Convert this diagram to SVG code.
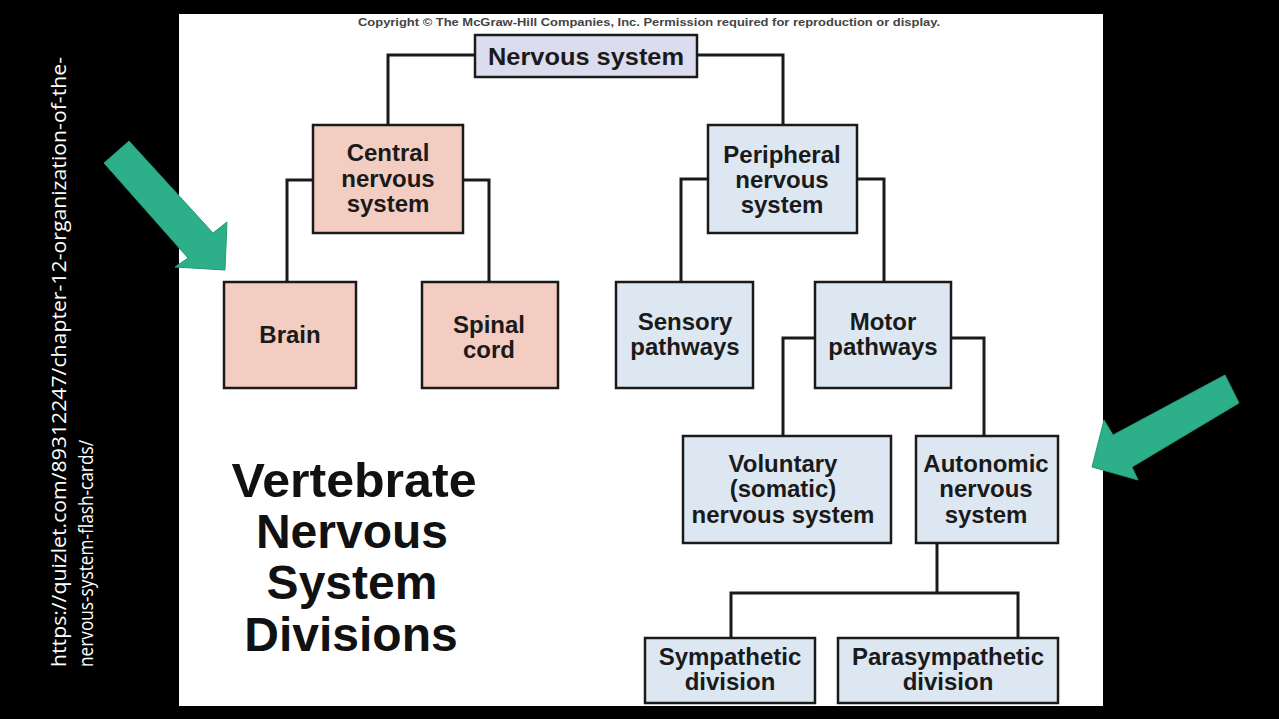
<svg xmlns="http://www.w3.org/2000/svg" width="1279" height="719" viewBox="0 0 1279 719">
<style>
.box{stroke:#1a1a1a;stroke-width:2.5}
.pink{fill:#f3cdc1}
.blue{fill:#dde7f2}
.lav{fill:#dcdcef}
.t{font-family:"Liberation Sans",Arial,sans-serif;font-weight:bold;font-size:24px;fill:#1a1a1a;text-anchor:middle}
.title{font-family:"Liberation Sans",Arial,sans-serif;font-weight:bold;font-size:48px;fill:#111;text-anchor:middle}
.conn{fill:none;stroke:#1a1a1a;stroke-width:3}
.arrow{fill:#2db089;stroke:#249a76;stroke-width:1}
.url{font-family:"Open Sans","Liberation Sans",sans-serif;font-size:20px;fill:#ffffff}
</style>
<rect x="0" y="0" width="1279" height="719" fill="#000"/>
<rect x="179" y="14" width="924" height="692" fill="#fff"/>
<text x="649" y="26" font-family="Liberation Sans,Arial,sans-serif" font-weight="bold" font-size="10" fill="#444" text-anchor="middle" textLength="582" lengthAdjust="spacingAndGlyphs">Copyright © The McGraw-Hill Companies, Inc. Permission required for reproduction or display.</text>
<g id="connectors">
<path class="conn" d="M475 55 H388 V125"/>
<path class="conn" d="M697 55 H783 V125"/>
<path class="conn" d="M313 180 H287 V282"/>
<path class="conn" d="M463 180 H489 V282"/>
<path class="conn" d="M708 179 H681 V282"/>
<path class="conn" d="M857 179 H884 V282"/>
<path class="conn" d="M815 338 H783 V436"/>
<path class="conn" d="M951 338 H984 V436"/>
<path class="conn" d="M937 543 V593"/>
<path class="conn" d="M731 638 V593 H1018 V638"/>
</g>
<g id="nervous-system"><rect class="box lav" x="475" y="35" width="222" height="42"/><text class="t" x="586" y="65" textLength="196" lengthAdjust="spacingAndGlyphs">Nervous system</text></g>
<g id="cns"><rect class="box pink" x="313" y="125" width="150" height="108"/><text class="t" x="388" y="161">Central</text><text class="t" x="388" y="187">nervous</text><text class="t" x="388" y="212">system</text></g>
<g id="pns"><rect class="box blue" x="708" y="125" width="149" height="108"/><text class="t" x="782" y="163">Peripheral</text><text class="t" x="782" y="188">nervous</text><text class="t" x="782" y="213">system</text></g>
<g id="brain"><rect class="box pink" x="224" y="282" width="132" height="106"/><text class="t" x="290" y="343">Brain</text></g>
<g id="spinal"><rect class="box pink" x="422" y="282" width="136" height="106"/><text class="t" x="489" y="333">Spinal</text><text class="t" x="489" y="358">cord</text></g>
<g id="sensory"><rect class="box blue" x="616" y="282" width="137" height="106"/><text class="t" x="685" y="330">Sensory</text><text class="t" x="685" y="355">pathways</text></g>
<g id="motor"><rect class="box blue" x="815" y="282" width="136" height="106"/><text class="t" x="883" y="330">Motor</text><text class="t" x="883" y="355">pathways</text></g>
<g id="voluntary"><rect class="box blue" x="683" y="436" width="208" height="107"/><text class="t" x="783" y="472">Voluntary</text><text class="t" x="783" y="497">(somatic)</text><text class="t" x="783" y="523">nervous system</text></g>
<g id="autonomic"><rect class="box blue" x="916" y="436" width="142" height="107"/><text class="t" x="986" y="472">Autonomic</text><text class="t" x="986" y="497">nervous</text><text class="t" x="986" y="523">system</text></g>
<g id="sympathetic"><rect class="box blue" x="645" y="638" width="170" height="65"/><text class="t" x="730" y="665">Sympathetic</text><text class="t" x="730" y="690">division</text></g>
<g id="parasympathetic"><rect class="box blue" x="838" y="638" width="220" height="65"/><text class="t" x="948" y="665">Parasympathetic</text><text class="t" x="948" y="690">division</text></g>
<g id="title"><text class="title" x="354" y="497" textLength="245" lengthAdjust="spacingAndGlyphs">Vertebrate</text><text class="title" x="352" y="548">Nervous</text><text class="title" x="352" y="599">System</text><text class="title" x="351" y="651">Divisions</text></g>
<polygon class="arrow" points="129,141 213,233 227,222 225,270 175,267 188,258 104,163"/>
<polygon class="arrow" points="1225,375 1239,403 1132,467 1138,480 1092,467 1104,420 1113,435"/>
<g id="source" transform="rotate(-90)"><text class="url" x="-667" y="66" textLength="610" lengthAdjust="spacingAndGlyphs">https://quizlet.com/89312247/chapter-12-organization-of-the-</text><text class="url" x="-667" y="93" textLength="227" lengthAdjust="spacingAndGlyphs">nervous-system-flash-cards/</text></g>
</svg>
